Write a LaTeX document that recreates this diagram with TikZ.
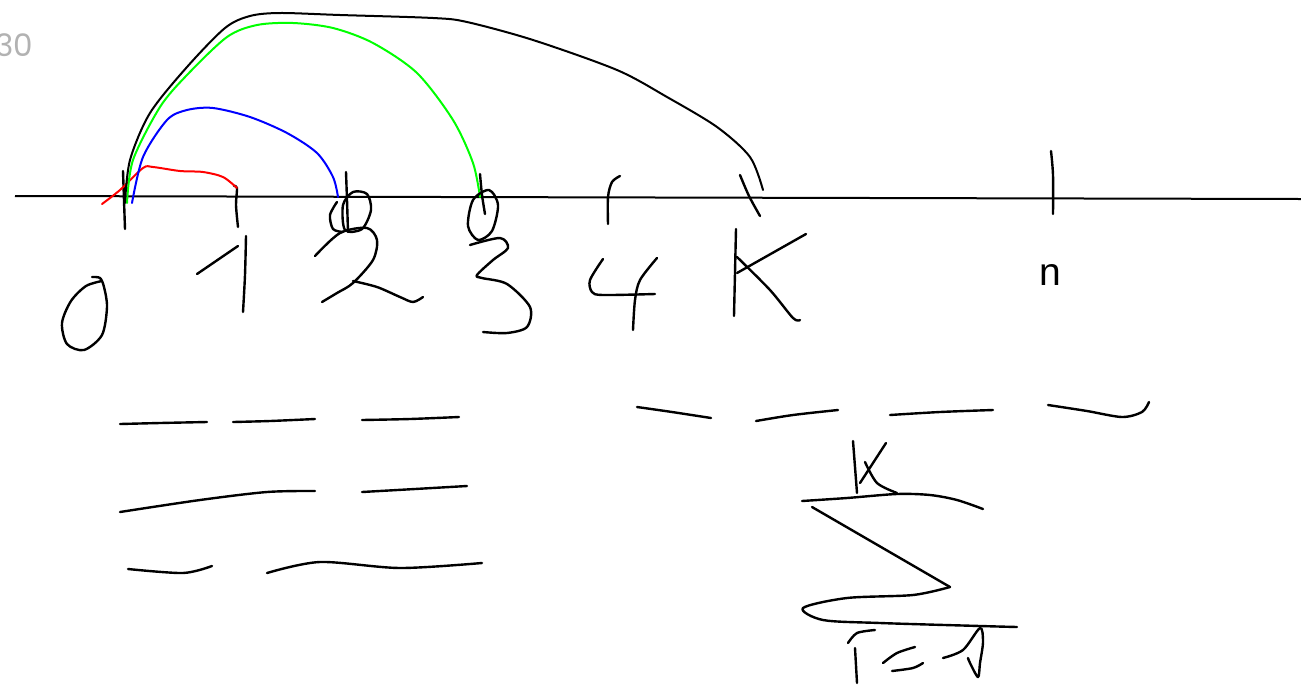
\documentclass[tikz,border=0pt]{standalone}
\usepackage{fontspec}
\setmainfont{Liberation Sans}
\newfontfamily\pop{Poppins}
\begin{document}
\begin{tikzpicture}[x=1pt,y=-1pt,
  ink/.style={line width=2.4pt,line cap=round,line join=round,black},
  arcred/.style={line width=2pt,line cap=round,red},
  arcblue/.style={line width=2pt,line cap=round,blue},
  arcgreen/.style={line width=2pt,line cap=round,green},
  lbl/.style={inner sep=0pt}]
\useasboundingbox (0,0) rectangle (1301,689);
\fill[white] (0,0) rectangle (1301,689);

% gray label top-left
\node[lbl,anchor=east,text=black!30,font=\pop\fontsize{31}{34}\selectfont] (thirty) at (33,45) {30};

% axis
\draw[line width=2pt,black] (15,196) -- (1301,199);

% ticks
\draw[ink] plot[smooth] coordinates {(123,171) (124,200) (125,229)};
\draw[ink] plot[smooth] coordinates {(234,186) (237,188) (236,205) (238,227)};
\draw[ink] plot[smooth] coordinates {(346,172) (347,200) (348,232)};
\draw[ink] plot[smooth] coordinates {(480,174) (482,195) (485,214)};
\draw[ink] plot[smooth] coordinates {(620,176) (612,182) (608,197) (608,224)};
\draw[ink] plot[smooth] coordinates {(740,175) (749,196) (760,216)};
\draw[ink] plot[smooth] coordinates {(1051,151) (1053,175) (1053,214)};

% arcs
\draw[arcred] plot[smooth] coordinates {(102,204) (120,190) (143,168) (153,167) (180,171) (203,172) (223,177) (237,188)};
\draw[arcblue] plot[smooth] coordinates {(132,203) (143,157) (167,120) (187,110) (213,108) (250,117) (287,133) (317,153) (333,177) (338,197)};
\draw[arcgreen] plot[smooth] coordinates {(127,203) (133,160) (160,107) (187,75) (227,37) (257,25) (293,23) (333,28) (373,43) (417,73) (453,120) (473,163) (480,197)};
\draw[line width=2pt,line cap=round,black] plot[smooth] coordinates {(125,203) (130,160) (150,113) (187,67) (225,28) (250,16) (280,13) (340,15) (433,18) (467,22) (533,40) (617,70) (667,97) (717,127) (750,157) (763,190)};

% digit 0
\draw[ink] plot[smooth] coordinates {(92,277) (100,278) (104,287) (107,307) (102,335) (84,350) (67,344) (62,323) (71,301) (86,286) (102,281)};
% digit 1
\draw[ink] (197,274) -- (238,246);
\draw[ink] plot[smooth] coordinates {(246,236) (245,275) (243,312)};
% digit 2
\draw[ink] plot[smooth] coordinates {(337,202) (330,215) (333,229) (343,232)};
\draw[ink] plot[smooth cycle] coordinates {(345,230) (343,205) (353,192) (367,194) (371,210) (362,229)};
\draw[ink] plot[smooth] coordinates {(315,256) (340,233) (367,228) (377,240) (373,260) (353,283) (337,293) (322,302)};
\draw[ink] plot[smooth] coordinates {(353,281) (377,287) (400,297) (413,302) (423,297)};
% digit 3
\draw[ink] plot[smooth cycle] coordinates {(468,226) (473,200) (489,190) (498,205) (492,231) (478,240)};
\draw[ink] plot[smooth] coordinates {(470,245) (500,238) (508,248) (493,260) (477,275) (482,278) (507,284) (530,307) (527,327) (507,333) (483,332)};
% digit 4
\draw[ink] plot[smooth] coordinates {(603,259) (590,280) (592,292) (603,295) (655,294)};
\draw[ink] plot[smooth] coordinates {(657,258) (640,280) (635,300) (633,330)};
% letter K
\draw[ink] (736,229) -- (734,316);
\draw[ink] (737,273) -- (806,234);
\draw[ink] plot[smooth] coordinates {(737,257) (770,290) (793,318) (800,320)};

% n
\node[lbl,font=\fontsize{39}{42}\selectfont] (nlabel) at (1050,275) {n};

% left dashes
\draw[ink] plot[smooth] coordinates {(120,424) (160,423) (207,422)};
\draw[ink] plot[smooth] coordinates {(233,422) (270,421) (315,419)};
\draw[ink] plot[smooth] coordinates {(362,420) (410,419) (459,417)};
\draw[ink] plot[smooth] coordinates {(120,512) (200,500) (267,492) (315,491)};
\draw[ink] plot[smooth] coordinates {(362,492) (415,489) (467,486)};
\draw[ink] plot[smooth] coordinates {(128,569) (183,573) (212,566)};
\draw[ink] plot[smooth] coordinates {(267,573) (320,562) (400,568) (482,563)};

% right dashes
\draw[ink] plot[smooth] coordinates {(637,407) (672,412) (711,418)};
\draw[ink] plot[smooth] coordinates {(756,421) (793,415) (838,410)};
\draw[ink] plot[smooth] coordinates {(890,415) (940,412) (993,410)};
\draw[ink] plot[smooth] coordinates {(1048,405) (1087,411) (1122,417) (1142,412) (1149,402)};

% sigma upper limit K
\draw[ink] (853,441) -- (857,493);
\draw[ink] (886,443) -- (860,483);
\draw[ink] plot[smooth] coordinates {(865,462) (877,483) (897,493)};
% sigma
\draw[ink] plot[smooth] coordinates {(802,501) (847,498) (897,494) (930,495) (957,500) (983,509)};
\draw[ink] (812,507) -- (950,587);
\draw[ink] plot[smooth] coordinates {(950,587) (913,595) (847,598) (803,608) (823,620) (880,623) (980,626) (1017,627)};
% lower limit i=1
\draw[ink] plot[smooth] coordinates {(848,643) (857,633) (875,630)};
\draw[ink] (855,648) -- (857,683);
\draw[ink] plot[smooth] coordinates {(883,663) (897,653) (915,647)};
\draw[ink] plot[smooth] coordinates {(892,671) (913,668) (923,663)};
\draw[ink] plot[smooth] coordinates {(943,658) (963,650) (980,628) (983,642) (980,663) (978,677) (970,663) (968,658)};
\end{tikzpicture}
\end{document}
